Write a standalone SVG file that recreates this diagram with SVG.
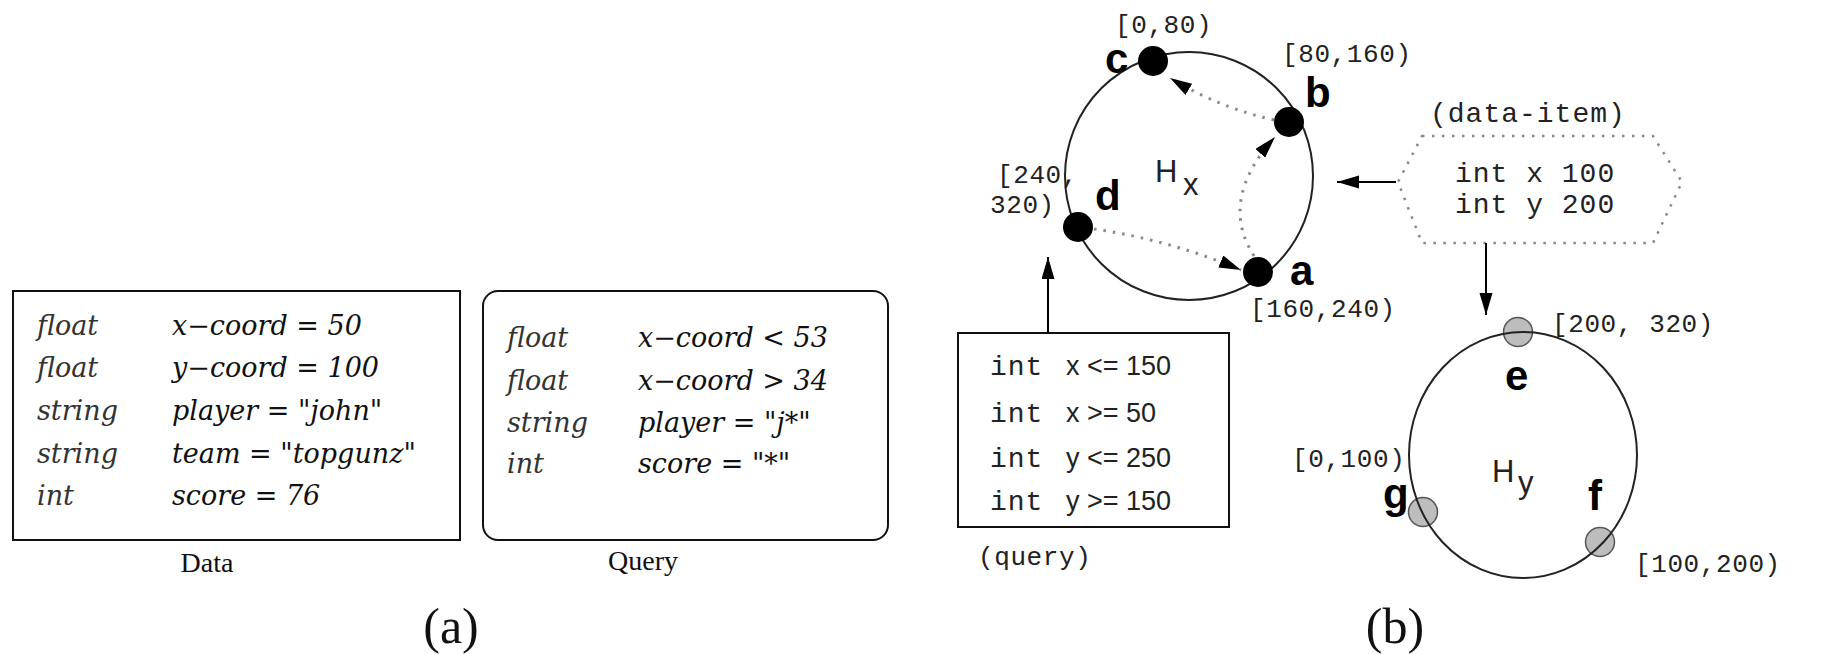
<svg xmlns="http://www.w3.org/2000/svg" width="1836" height="654" viewBox="0 0 1836 654">
  <style>
    .box { fill: none; stroke: #111; stroke-width: 2; }
    .it { font-family: "DejaVu Serif", "Liberation Serif", serif; font-style: italic; font-size: 27px; fill: #111; }
    .ty { fill: #333; }
    .cap { font-family: "Liberation Serif", serif; font-size: 28px; fill: #111; }
    .big { font-family: "Liberation Serif", serif; font-size: 50px; fill: #111; text-anchor: middle; }
    .mono { font-family: "Liberation Mono", "DejaVu Sans Mono", monospace; font-size: 26px; fill: #222; letter-spacing: 0.6px; }
    .mono28 { font-family: "Liberation Mono", "DejaVu Sans Mono", monospace; font-size: 28px; fill: #222; letter-spacing: 1px; }
    .sans { font-family: "Liberation Sans", Arial, sans-serif; font-size: 27px; fill: #222; }
    .lbl { font-family: "Liberation Sans", Arial, sans-serif; font-size: 42px; font-weight: bold; fill: #000; }
    .hh { font-family: "Liberation Sans", Arial, sans-serif; font-size: 31px; fill: #222; }
    .ring { fill: none; stroke: #222; stroke-width: 2; }
    .dot { fill: none; stroke: #888; stroke-width: 3; stroke-dasharray: 2.5 7; }
    .hex { fill: none; stroke: #888; stroke-width: 2.5; stroke-dasharray: 2.5 7.5; }
    .solid { fill: none; stroke: #000; stroke-width: 2; }
    .bnode { fill: #000; }
    .gnode { fill: #bdbdbd; stroke: #555; stroke-width: 1.5; }
  </style>
  <defs>
    <marker id="head" markerUnits="userSpaceOnUse" markerWidth="24" markerHeight="14" refX="22" refY="6.5" orient="auto">
      <path d="M0,0 L22,6.5 L0,13 z" fill="#000"/>
    </marker>
  </defs>

  <rect width="1836" height="654" fill="#fff"/>

  <!-- (a) data item -->
  <g id="data">
    <rect class="box" x="13" y="291" width="447" height="249"/>
    <text class="it ty" x="37" y="335">float</text>
    <text class="it" x="172" y="335">x−coord = 50</text>
    <text class="it ty" x="37" y="377">float</text>
    <text class="it" x="172" y="377">y−coord = 100</text>
    <text class="it ty" x="37" y="420">string</text>
    <text class="it" x="172" y="420">player = "john"</text>
    <text class="it ty" x="37" y="463">string</text>
    <text class="it" x="172" y="463">team = "topgunz"</text>
    <text class="it ty" x="37" y="505">int</text>
    <text class="it" x="172" y="505">score = 76</text>
    <text class="cap" x="207" y="572" text-anchor="middle">Data</text>
  </g>

  <!-- (a) query -->
  <g id="query">
    <rect class="box" x="483" y="291" width="405" height="249" rx="15"/>
    <text class="it ty" x="507" y="347">float</text>
    <text class="it" x="638" y="347">x−coord &lt; 53</text>
    <text class="it ty" x="507" y="390">float</text>
    <text class="it" x="638" y="390">x−coord &gt; 34</text>
    <text class="it ty" x="507" y="432">string</text>
    <text class="it" x="638" y="432">player = "j*"</text>
    <text class="it ty" x="507" y="473">int</text>
    <text class="it" x="638" y="473">score = "*"</text>
    <text class="cap" x="643" y="570" text-anchor="middle">Query</text>
  </g>

  <text class="big" x="451" y="643">(a)</text>
  <text class="big" x="1395" y="643">(b)</text>

  <!-- (b) ring Hx -->
  <g id="ring-hx">
    <circle class="ring" cx="1189" cy="176" r="124"/>
    <text class="hh" x="1155" y="182">H</text>
    <text class="hh" x="1183" y="195">x</text>
  </g>
  <g id="node-c">
    <circle class="bnode" cx="1153" cy="61" r="15"/>
    <text class="lbl" x="1105" y="73">c</text>
    <text class="mono" x="1115" y="33">[0,80)</text>
  </g>
  <g id="node-b">
    <circle class="bnode" cx="1289" cy="122" r="15"/>
    <text class="lbl" x="1305" y="107">b</text>
    <text class="mono" x="1282" y="62">[80,160)</text>
  </g>
  <g id="node-d">
    <circle class="bnode" cx="1078" cy="227" r="15"/>
    <text class="lbl" x="1095" y="210">d</text>
    <text class="mono" x="997" y="183">[240,</text>
    <text class="mono" x="990" y="213">320)</text>
  </g>
  <g id="node-a">
    <circle class="bnode" cx="1258" cy="272" r="15"/>
    <text class="lbl" x="1290" y="285">a</text>
    <text class="mono" x="1250" y="317">[160,240)</text>
  </g>

  <!-- (b) ring Hy -->
  <g id="ring-hy">
    <text class="hh" x="1492" y="482">H</text>
    <text class="hh" x="1518" y="493">y</text>
  </g>
  <g id="node-e">
    <circle class="gnode" cx="1518" cy="332" r="14.5"/>
    <text class="lbl" x="1505" y="390">e</text>
    <text class="mono" x="1552" y="332">[200, 320)</text>
  </g>
  <g id="node-g">
    <circle class="gnode" cx="1423" cy="512" r="14.5"/>
    <text class="lbl" x="1383" y="508">g</text>
    <text class="mono" x="1292" y="467">[0,100)</text>
  </g>
  <g id="node-f">
    <circle class="gnode" cx="1600" cy="542" r="14.5"/>
    <text class="lbl" x="1588" y="510">f</text>
    <text class="mono" x="1635" y="572">[100,200)</text>
  </g>
  <ellipse class="ring" cx="1523" cy="455" rx="114" ry="123"/>

  <!-- (b) data item -->
  <g id="data-item">
    <text class="mono28" x="1430" y="122">(data-item)</text>
    <path class="hex" d="M1422,136 L1653,136 L1682,182 L1653,243 L1422,243 L1398,182 Z"/>
    <text class="mono28" x="1455" y="182">int x 100</text>
    <text class="mono28" x="1455" y="213">int y 200</text>
  </g>

  <!-- (b) query -->
  <g id="range-query">
    <rect class="box" x="958" y="333" width="271" height="194"/>
    <text class="mono28" x="990" y="375">int</text>
    <text class="sans" x="1066" y="375">x &lt;= 150</text>
    <text class="mono28" x="990" y="422">int</text>
    <text class="sans" x="1066" y="422">x &gt;= 50</text>
    <text class="mono28" x="990" y="467">int</text>
    <text class="sans" x="1066" y="467">y &lt;= 250</text>
    <text class="mono28" x="990" y="510">int</text>
    <text class="sans" x="1066" y="510">y &gt;= 150</text>
    <text class="mono" x="978" y="565">(query)</text>
  </g>

  <!-- connectors -->
  <g id="connectors">
    <path class="dot" d="M1274,120 Q1220,108 1170,78" marker-end="url(#head)"/>
    <path class="dot" d="M1254,256 Q1218,200 1275,137" marker-end="url(#head)"/>
    <path class="dot" d="M1094,229 Q1170,240 1241,270" marker-end="url(#head)"/>
    <path class="solid" d="M1396,182 L1337,182" marker-end="url(#head)"/>
    <path class="solid" d="M1486,243 L1486,315" marker-end="url(#head)"/>
    <path class="solid" d="M1048,333 L1048,257" marker-end="url(#head)"/>
  </g>
</svg>
